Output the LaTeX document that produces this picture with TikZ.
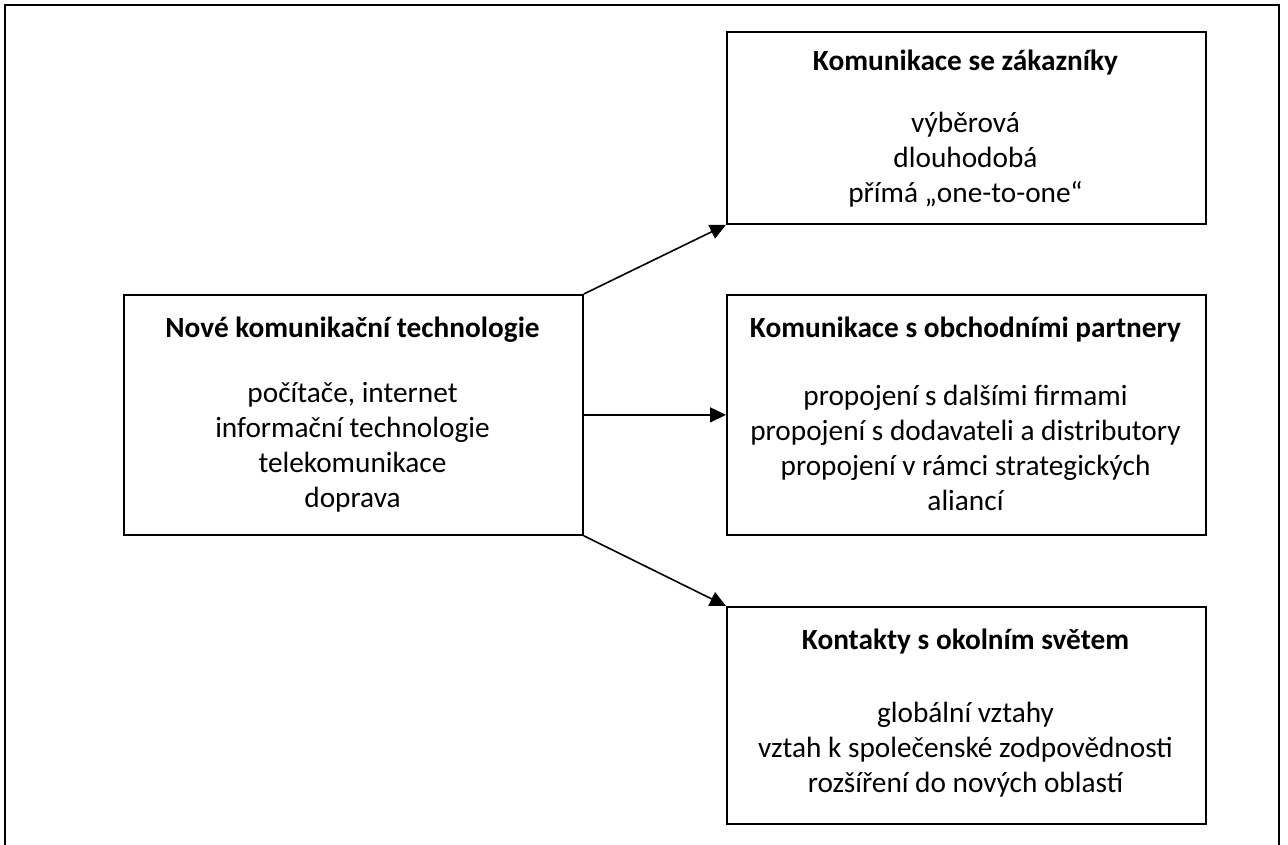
\documentclass[tikz,border=0pt]{standalone}
\usepackage{fontspec}
\setmainfont{Carlito}
\usetikzlibrary{arrows.meta}

\begin{document}
\begin{tikzpicture}[x=1pt,y=-1pt,
  frame/.style={draw=black, line width=2.4pt},
  box/.style={draw=black, line width=1.8pt, anchor=north west, inner sep=0pt},
  heading/.style={font=\fontsize{29.3}{35}\selectfont\bfseries, align=center, inner sep=0pt},
  items/.style={font=\fontsize{29.3}{35}\selectfont, align=center, inner sep=0pt},
  link/.style={draw=black, line width=1.6pt, -{Triangle[length=16pt,width=15pt]}}
]
  \useasboundingbox (0,0) rectangle (1288,845);
  \clip (0,0) rectangle (1288,845);

  % outer border
  \draw[frame] (5,5) rectangle (1279,850);

  % source box
  \node[box, minimum width=459pt, minimum height=240pt] (tech) at (123,294) {};
  \node[heading] (techT) at (352.5,330) {Nové komunikační technologie};
  \node[items] (techI) at (352.5,447.5) {počítače, internet\\informační technologie\\telekomunikace\\doprava};

  % customers
  \node[box, minimum width=479pt, minimum height=192pt] (cust) at (726,31) {};
  \node[heading] (custT) at (965.5,63) {Komunikace se zákazníky};
  \node[items] (custI) at (965.5,160) {výběrová\\dlouhodobá\\přímá „one-to-one“};

  % business partners
  \node[box, minimum width=479pt, minimum height=240pt] (part) at (726,294) {};
  \node[heading] (partT) at (965.5,330) {Komunikace s obchodními partnery};
  \node[items] (partI) at (965.5,447.5) {propojení s dalšími firmami\\propojení s dodavateli a distributory\\propojení v rámci strategických\\aliancí};

  % surrounding world
  \node[box, minimum width=479pt, minimum height=217pt] (world) at (726,606) {};
  \node[heading] (worldT) at (965.5,642) {Kontakty s okolním světem};
  \node[items] (worldI) at (965.5,750) {globální vztahy\\vztah k společenské zodpovědnosti\\rozšíření do nových oblastí};

  % connectors
  \draw[link] (tech.north east) -- (cust.south west);
  \draw[link] (tech.east) -- (part.west);
  \draw[link] (tech.south east) -- (world.north west);
\end{tikzpicture}
\end{document}
